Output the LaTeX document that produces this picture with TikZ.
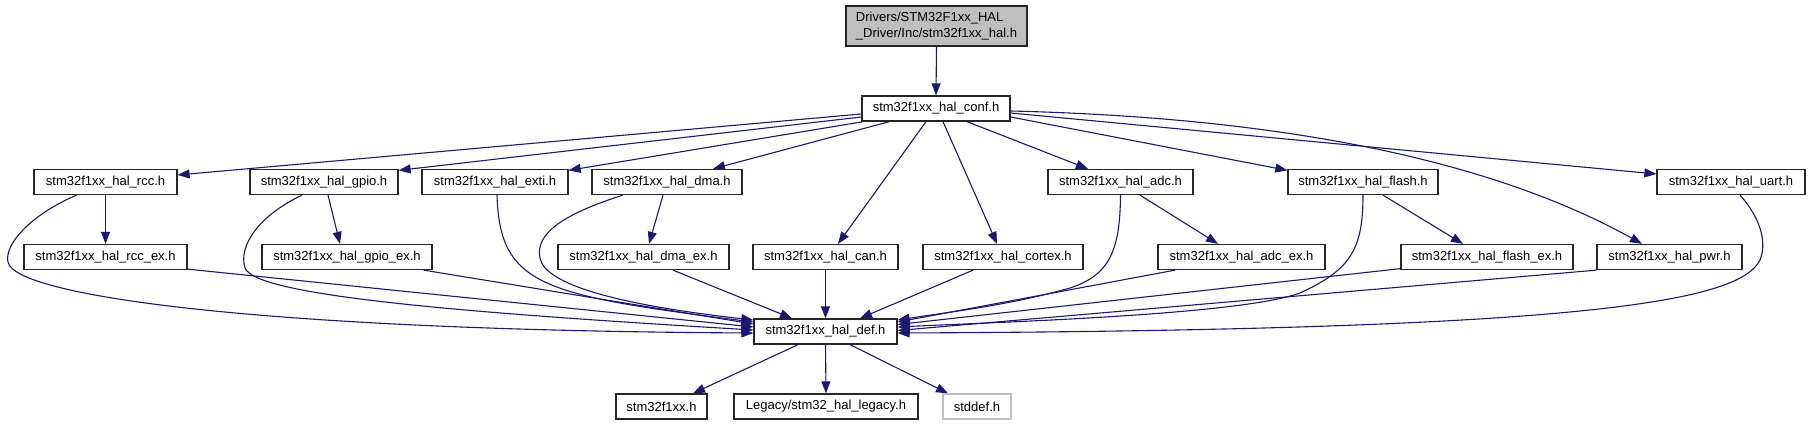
\documentclass[tikz,border=0pt]{standalone}
\usepackage{fontspec}
\setmainfont{Liberation Sans}
\usetikzlibrary{arrows.meta}
\definecolor{edgec}{HTML}{191970}
\definecolor{fillg}{HTML}{BFBFBF}
\pgfdeclarelayer{background}
\pgfsetlayers{background,main}
\begin{document}
\begin{tikzpicture}[x=1pt,y=-1pt,
  box/.style={draw=black!85, line width=1.3pt, fill=white, inner sep=0pt,
    font=\fontsize{13}{15.5}\selectfont, minimum height=25pt, text=black},
  lnk/.style={draw=edgec, line width=1.1pt, -{Triangle[length=12pt,width=9pt]}},
]
\useasboundingbox (0,0) rectangle (1810,425);
% nodes
\node[box, fill=fillg, minimum width=181pt, minimum height=40pt, align=left] (top) at (936.5,26)
  {Drivers/STM32F1xx\_HAL\\\_Driver/Inc/stm32f1xx\_hal.h};
\node[box, minimum width=148pt] (conf) at (936,108.5) {stm32f1xx\_hal\_conf.h};
% row 2
\node[box, minimum width=143pt] (rcc) at (105.5,182) {stm32f1xx\_hal\_rcc.h};
\node[box, minimum width=148pt] (gpio) at (324,182) {stm32f1xx\_hal\_gpio.h};
\node[box, minimum width=146pt] (exti) at (495,182) {stm32f1xx\_hal\_exti.h};
\node[box, minimum width=150pt] (dma) at (667,182) {stm32f1xx\_hal\_dma.h};
\node[box, minimum width=145pt] (adc) at (1120.5,182) {stm32f1xx\_hal\_adc.h};
\node[box, minimum width=150pt] (flash) at (1363,182) {stm32f1xx\_hal\_flash.h};
\node[box, minimum width=148pt] (uart) at (1731,182) {stm32f1xx\_hal\_uart.h};
% row 3
\node[box, minimum width=163pt] (rccex) at (105.5,257) {stm32f1xx\_hal\_rcc\_ex.h};
\node[box, minimum width=170pt] (gpioex) at (347,257) {stm32f1xx\_hal\_gpio\_ex.h};
\node[box, minimum width=171pt] (dmaex) at (643.5,257) {stm32f1xx\_hal\_dma\_ex.h};
\node[box, minimum width=145pt] (can) at (825.5,257) {stm32f1xx\_hal\_can.h};
\node[box, minimum width=160pt] (cortex) at (1003,257) {stm32f1xx\_hal\_cortex.h};
\node[box, minimum width=167pt] (adcex) at (1241.5,257) {stm32f1xx\_hal\_adc\_ex.h};
\node[box, minimum width=172pt] (flashex) at (1487,257) {stm32f1xx\_hal\_flash\_ex.h};
\node[box, minimum width=145pt] (pwr) at (1669.5,257) {stm32f1xx\_hal\_pwr.h};
% def
\node[box, minimum width=143pt] (def) at (825.5,331.5) {stm32f1xx\_hal\_def.h};
% bottom
\node[box, minimum width=91pt] (stm) at (661.5,406.5) {stm32f1xx.h};
\node[box, minimum width=184pt] (legacy) at (826,406.5) {Legacy/stm32\_hal\_legacy.h};
\node[box, draw=fillg, minimum width=68pt] (stddef) at (977,406.5) {stddef.h};

\begin{pgfonlayer}{background}
\draw[lnk] (top.south) -- (conf.north);
% conf -> row 2/3
\draw[lnk] ([yshift=-5.5pt]conf.west) -- ([yshift=7pt]rcc.east);
\draw[lnk] ([yshift=-8.5pt]conf.west) -- ([yshift=-1.5pt]gpio.north east);
\draw[lnk] ([xshift=2pt]conf.south west) -- ([yshift=-1.5pt]exti.north east);
\draw[lnk] ([xshift=28pt]conf.south west) -- ([xshift=46pt]dma.north);
\draw[lnk] ([xshift=-10pt]conf.south) -- ([xshift=12.5pt]can.north);
\draw[lnk] ([xshift=7pt]conf.south) -- ([xshift=-6pt]cortex.north);
\draw[lnk] ([xshift=31pt]conf.south) -- ([xshift=-32.5pt]adc.north);
\draw[lnk] ([yshift=-8.5pt]conf.east) -- ([yshift=-1.5pt]flash.north west);
\draw[lnk] ([yshift=-4.5pt]conf.east) -- ([yshift=8pt]uart.west);
\draw[lnk] ([yshift=-2.5pt]conf.east) .. controls (1300,118) and (1500,165) .. ([xshift=-27.5pt]pwr.north);
% row 2 -> row 3
\draw[lnk] (rcc.south) -- (rccex.north);
\draw[lnk] ([xshift=4pt]gpio.south) -- ([xshift=-7pt]gpioex.north);
\draw[lnk] ([xshift=-4pt]dma.south) -- ([xshift=5.5pt]dmaex.north);
\draw[lnk] ([xshift=19.5pt]adc.south) -- ([xshift=-23.5pt]adcex.north);
\draw[lnk] ([xshift=20pt]flash.south) -- ([xshift=-24pt]flashex.north);
% into def, top
\draw[lnk] ([xshift=29.5pt]dmaex.south) -- ([xshift=-33.5pt]def.north);
\draw[lnk] (can.south) -- (def.north);
\draw[lnk] ([xshift=-30pt]cortex.south) -- ([xshift=34.5pt]def.north);
% into def, left
\draw[lnk] ([xshift=2pt]exti.south) .. controls (500,285) and (540,295) .. ([yshift=9.5pt]def.west);
\draw[lnk] ([xshift=-44pt]dma.south) .. controls (560,215) and (535,235) .. (540,258)
  .. controls (545,285) and (620,305) .. ([yshift=11.5pt]def.west);
\draw[lnk] ([xshift=-9pt]gpioex.south east) -- ([yshift=7.5pt]def.west);
\draw[lnk] ([yshift=1pt]rccex.south east) -- ([yshift=4.5pt]def.west);
\draw[lnk] ([xshift=-22pt]gpio.south) .. controls (260,215) and (238,245) .. (245,268)
  .. controls (255,295) and (450,312) .. ([yshift=1.5pt]def.west);
\draw[lnk] ([xshift=-29pt]rcc.south) .. controls (30,215) and (4,245) .. (8,262)
  .. controls (14,295) and (250,330) .. ([yshift=-1.5pt]def.west);
% into def, right
\draw[lnk] (adc.south) .. controls (1120,250) and (1110,275) .. (1070,288)
  .. controls (1010,305) and (950,312) .. ([yshift=11.5pt]def.east);
\draw[lnk] ([xshift=-66.5pt]adcex.south) -- ([yshift=9.5pt]def.east);
\draw[lnk] ([yshift=1.5pt]flashex.south west) -- ([yshift=7pt]def.east);
\draw[lnk] (flash.south) .. controls (1363,250) and (1350,270) .. (1300,293)
  .. controls (1240,315) and (1000,322) .. ([yshift=4.5pt]def.east);
\draw[lnk] (pwr.south west) -- ([yshift=1pt]def.east);
\draw[lnk] ([xshift=9pt]uart.south) .. controls (1758,215) and (1768,240) .. (1760,260)
  .. controls (1740,300) and (1600,330) .. ([yshift=-1.5pt]def.east);
% def -> bottom
\draw[lnk] ([xshift=-27.5pt]def.south) -- ([xshift=31.5pt]stm.north);
\draw[lnk] (def.south) -- (legacy.north);
\draw[lnk] ([xshift=24.5pt]def.south) -- ([xshift=-29pt]stddef.north);
\end{pgfonlayer}
\end{tikzpicture}
\end{document}
